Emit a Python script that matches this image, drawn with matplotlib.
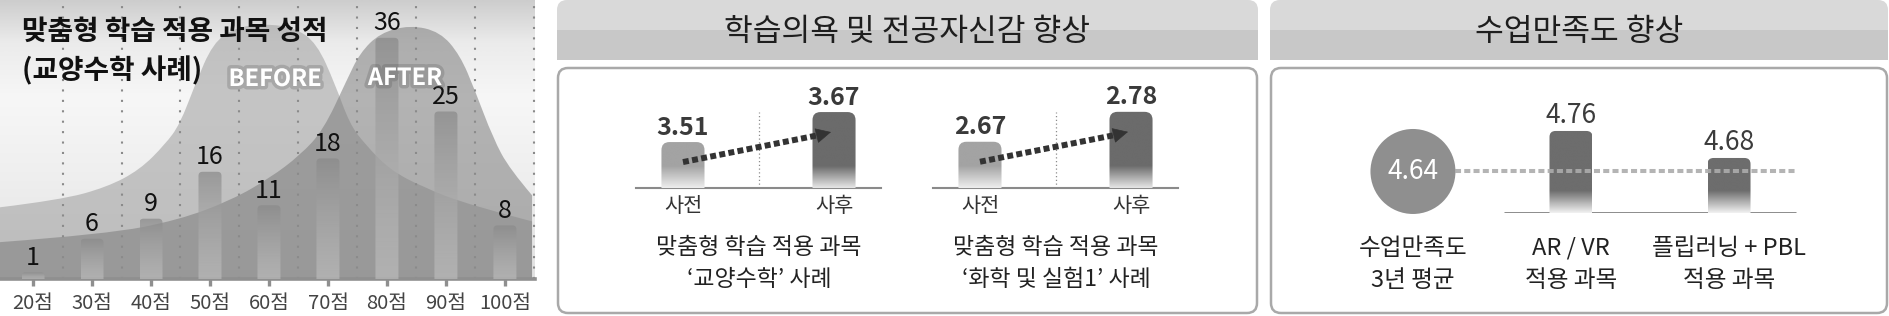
import numpy as np
import matplotlib
matplotlib.use("Agg")
import matplotlib.pyplot as plt
import matplotlib.patheffects as pe
from matplotlib.patches import FancyBboxPatch, PathPatch, Rectangle
from matplotlib.path import Path
from matplotlib.colors import LinearSegmentedColormap, to_rgba
from matplotlib.transforms import ScaledTranslation

plt.rcParams["font.family"] = ["Noto Sans CJK KR", "DejaVu Sans"]

W, H = 1890, 316

# --- left: grade distribution (교양수학) ---
left_title = "맞춤형 학습 적용 과목 성적"
left_subtitle = "(교양수학 사례)"
grade_labels = ["20점", "30점", "40점", "50점", "60점", "70점", "80점", "90점", "100점"]
grade_counts = [1, 6, 9, 16, 11, 18, 36, 25, 8]
# decorative bell outlines (x in grade slots, y in counts)
before_x = [-0.56, 0.46, 1.25, 1.81, 2.24, 2.49, 2.75, 3.05, 3.42, 3.93, 4.44, 4.81, 5.12, 5.37, 5.63, 6.05, 6.61, 7.41, 8.46]
before_y = [10.7, 11.8, 13.7, 16.3, 20.1, 23.1, 29.1, 35.2, 37.5, 38.1, 37.5, 35.2, 29.1, 23.1, 20.1, 16.3, 13.7, 11.0, 8.6]
after_x = [-0.56, 1.25, 2.47, 3.37, 4.02, 4.53, 4.92, 5.32, 5.54, 5.88, 6.39, 6.90, 7.24, 7.49, 7.80, 8.08, 8.46]
after_y = [5.5, 6.7, 8.8, 11.8, 15.1, 18.5, 22.2, 29.7, 33.7, 36.7, 37.9, 36.9, 33.4, 28.2, 21.0, 16.4, 12.5]
before_label, after_label = "BEFORE", "AFTER"

# --- middle: motivation / confidence ---
mot_title = "학습의욕 및 전공자신감 향상"
mot_phases = ["사전", "사후"]
mot_cases = ["맞춤형 학습 적용 과목\n‘교양수학’ 사례", "맞춤형 학습 적용 과목\n‘화학 및 실험1’ 사례"]
mot_scores = [[3.51, 3.67], [2.67, 2.78]]
mot_ylims = [(3.265, 3.841), (2.50, 2.897)]

# --- right: class satisfaction ---
sat_title = "수업만족도 향상"
sat_labels = ["수업만족도\n3년 평균", "AR / VR\n적용 과목", "플립러닝 + PBL\n적용 과목"]
sat_avg = 4.64
sat_scores = [4.76, 4.68]
sat_ylim = (4.517, 4.911)

fig = plt.figure(figsize=(W / 100, H / 100), dpi=100, facecolor="white")


def px_axes(x0, y0, x1, y1):
    return fig.add_axes([x0 / W, 1 - y1 / H, (x1 - x0) / W, (y1 - y0) / H])


def px_per_unit(ax):
    bb = ax.get_position()
    xa, xb = ax.get_xlim()
    ya, yb = ax.get_ylim()
    return bb.width * W / (xb - xa), bb.height * H / (yb - ya)


def gradient(ax, extent, stops, z, clip=None):
    cmap = LinearSegmentedColormap.from_list("g", [(p, to_rgba(c, a)) for p, c, a in stops])
    im = ax.imshow(np.linspace(0, 1, 256).reshape(-1, 1), cmap=cmap, aspect="auto", extent=extent,
                   origin="lower", zorder=z, interpolation="bilinear")
    if clip is not None:
        im.set_clip_path(clip)
    return im


def gradient_bars(ax, x, values, width, floor, tops, bottoms, radius_px, fade_px=None, z=3):
    bars = ax.bar(x, [v - floor for v in values], width, bottom=floor, color="none", edgecolor="none", zorder=z)
    sx, sy = px_per_unit(ax)
    rx, ry = radius_px / sx, radius_px / sy
    for rect, ct, cb in zip(bars, tops, bottoms):
        bx, by, bw, bh = rect.get_x(), rect.get_y(), rect.get_width(), rect.get_height()
        clip = FancyBboxPatch((bx, by - ry), bw, bh + ry, boxstyle=f"round,pad=0,rounding_size={rx}",
                              mutation_aspect=ry / rx, fc="none", ec="none")
        ax.add_patch(clip)
        if fade_px is None:
            stops = [(0, *cb), (1, *ct)]
        else:
            f = min(fade_px / (bh * sy), 0.95)
            stops = [(0, *cb), (f, *ct), (1, *ct)]
        gradient(ax, (bx, bx + bw, by, by + bh), stops, z, clip)
    return bars


def smooth_area(xs, ys, base):
    # quadratic B-spline through the read-off points, closed down to the axis
    pts = list(zip(xs, ys))
    verts, codes = [pts[0]], [Path.MOVETO]
    for i in range(1, len(pts) - 1):
        nxt = pts[i + 1] if i == len(pts) - 2 else ((pts[i][0] + pts[i + 1][0]) / 2, (pts[i][1] + pts[i + 1][1]) / 2)
        verts += [pts[i], nxt]
        codes += [Path.CURVE3, Path.CURVE3]
    verts += [(xs[-1], base), (xs[0], base), pts[0]]
    codes += [Path.LINETO, Path.LINETO, Path.CLOSEPOLY]
    return Path(verts, codes)


# background layer in pixel coordinates
bg = fig.add_axes([0, 0, 1, 1])
bg.set_xlim(0, W)
bg.set_ylim(H, 0)
bg.axis("off")

for (x0, x1), title in [((557, 1258), mot_title), ((1270, 1888), sat_title)]:
    bg.add_patch(FancyBboxPatch((x0, 0), x1 - x0, 60, boxstyle="round,pad=0,rounding_size=10", fc="#d9d9d9", ec="none"))
    bg.add_patch(Rectangle((x0, 30), x1 - x0, 30, fc="#c8c8c8", ec="none"))
    bg.text((x0 + x1) / 2, 32, title, ha="center", va="center", fontsize=22.5, color="#1e1e1e")
    bg.add_patch(FancyBboxPatch((x0 + 1, 68), x1 - x0 - 2, 245, boxstyle="round,pad=0,rounding_size=10",
                                fc="white", ec="#a9a9a9", lw=1.8))

# ---------------- left panel ----------------
axl = px_axes(0, 0, 535, 279)
axl.set_xlim(-0.56, 8.51)
axl.set_ylim(0, 41.64)
axl.set_autoscale_on(False)
gradient(axl, (-0.56, 8.51, 0, 41.64),
         [(0, "#e2e2e2", 1), (0.35, "#eeeeee", 1), (0.65, "#f7f7f7", 1), (0.85, "#ebebeb", 1), (1, "#cdcdcd", 1)], 0)

for xs, ys, col, a in [(before_x, before_y, "#a4a4a4", 0.6), (after_x, after_y, "#7c7c7c", 0.55)]:
    axl.add_patch(PathPatch(smooth_area(xs, ys, 0), fc=col, ec="none", alpha=a, zorder=1))

for xv in np.arange(len(grade_counts)) + 0.5:
    axl.axvline(xv, color="#8a8a8a", lw=1.5, ls=(0, (1, 4)), zorder=2, clip_on=False)

xpos = np.arange(len(grade_counts))
gradient_bars(axl, xpos, grade_counts, 0.39, 0,
              [("#8a8a8a", 0.72)] * len(grade_counts), [("#c6c6c6", 0.55)] * len(grade_counts), 4)
for x, v in zip(xpos, grade_counts):
    axl.annotate(str(v), (x, v), xytext=(0, 5.5), textcoords="offset points", ha="center", va="baseline",
                 fontsize=18, color="#111111", zorder=5)

for s in ["top", "left", "right"]:
    axl.spines[s].set_visible(False)
axl.spines["bottom"].set_color("#8f8f8f")
axl.spines["bottom"].set_linewidth(2.6)
axl.set_yticks([])
axl.set_xticks(xpos, grade_labels)
axl.tick_params(axis="x", length=5, width=2.4, color="#8f8f8f", pad=5, labelsize=14.5, labelcolor="#444444")

axl.text(22, 32, left_title, transform=bg.transData, fontsize=20, weight="bold", va="center", color="#111111", zorder=6)
axl.text(22, 71, left_subtitle, transform=bg.transData, fontsize=20, weight="bold", va="center", color="#111111", zorder=6)
glow = [pe.withStroke(linewidth=5, foreground="#555555", alpha=0.25)]
axl.text(275, 79, before_label, transform=bg.transData, fontsize=17, weight="bold", color="white",
         ha="center", va="center", zorder=6, path_effects=glow)
axl.text(405, 78, after_label, transform=bg.transData, fontsize=17, weight="bold", color="white",
         ha="center", va="center", zorder=6, path_effects=glow)

# ---------------- middle panel ----------------
for i, (scores, ylim, case) in enumerate(zip(mot_scores, mot_ylims, mot_cases)):
    x0 = 636 + i * 297
    ax = px_axes(x0, 80, x0 + 245, 188)
    ax.patch.set_alpha(0)
    ax.set_xlim(-0.311, 1.311)
    ax.set_ylim(*ylim)
    ax.set_autoscale_on(False)
    gradient_bars(ax, [0, 1], scores, 0.285, ylim[0],
                  [("#a3a3a3", 1), ("#6b6b6b", 1)], [("#eeeeee", 1), ("#e6e6e6", 1)], 8, fade_px=22)
    for x, v in zip([0, 1], scores):
        ax.annotate(f"{v:.2f}", (x, v), xytext=(0, 5.4), textcoords="offset points", ha="center", va="baseline",
                    fontsize=18, weight="bold", color="#3a3a3a")
    ax.vlines(0.5, ylim[0], max(scores), colors="#8c8c8c", lw=0.9, linestyles=(0, (1, 2)), zorder=2)
    tr = ax.transData + ScaledTranslation(0, -0.2, fig.dpi_scale_trans)
    k = 0.9
    ax.plot([0, k], [scores[0], scores[0] + k * (scores[1] - scores[0])], transform=tr, color="#333333",
            lw=4.3, dashes=(1, 0.55), zorder=6)
    ax.annotate("", xy=(0.98, scores[1]), xycoords=tr,
                xytext=(0.9, scores[0] + 0.9 * (scores[1] - scores[0])), textcoords=tr,
                arrowprops=dict(arrowstyle="-|>,head_length=1.0,head_width=0.5", color="#333333",
                                lw=0.5, shrinkA=0, shrinkB=0), zorder=6)
    for s in ["top", "left", "right"]:
        ax.spines[s].set_visible(False)
    ax.spines["bottom"].set_color("#8a8a8a")
    ax.spines["bottom"].set_linewidth(1.5)
    ax.set_yticks([])
    ax.set_xticks([0, 1], mot_phases)
    ax.tick_params(axis="x", length=0, pad=5, labelsize=15, labelcolor="#333333")
    bg.text(x0 + 123, 264, case, ha="center", va="center", fontsize=16.5, linespacing=1.5, color="#222222")

# ---------------- right panel ----------------
axr = px_axes(1290, 80, 1870, 213)
axr.patch.set_alpha(0)
axr.set_xlim(-0.778, 2.892)
axr.set_ylim(*sat_ylim)
axr.set_autoscale_on(False)
sx, sy = px_per_unit(axr)
axr.hlines(sat_ylim[0], 1 - 0.424, 2 + 0.424, colors="#6a6a6a", lw=1.8, zorder=2)
gradient_bars(axr, [1, 2], sat_scores, 0.272, sat_ylim[0],
              [("#6d6d6d", 1)] * 2, [("#f2f2f2", 1)] * 2, 6, fade_px=22)
for x, v in zip([1, 2], sat_scores):
    axr.annotate(f"{v:.2f}", (x, v), xytext=(0, 5.8), textcoords="offset points", ha="center", va="baseline",
                 fontsize=19, color="#3c3c3c")
circle_r = 42.5
axr.scatter([0], [sat_avg], s=(2 * circle_r * 0.72) ** 2, color="#8f8f8f", edgecolors="none", zorder=3, clip_on=False)
axr.text(0, sat_avg, f"{sat_avg:.2f}", ha="center", va="center", fontsize=19, color="white", zorder=4)
axr.hlines(sat_avg, circle_r / sx, 2 + 0.424, colors="#acacac", lw=2.9, linestyles=(0, (1.5, 0.8)), zorder=5, alpha=0.9)
for s in axr.spines.values():
    s.set_visible(False)
axr.set_xticks([0, 1, 2], sat_labels, linespacing=1.5)
axr.set_yticks([])
axr.tick_params(axis="x", length=0, pad=17, labelsize=17, labelcolor="#222222")

fig.savefig("out.png", dpi=100, facecolor="white")
